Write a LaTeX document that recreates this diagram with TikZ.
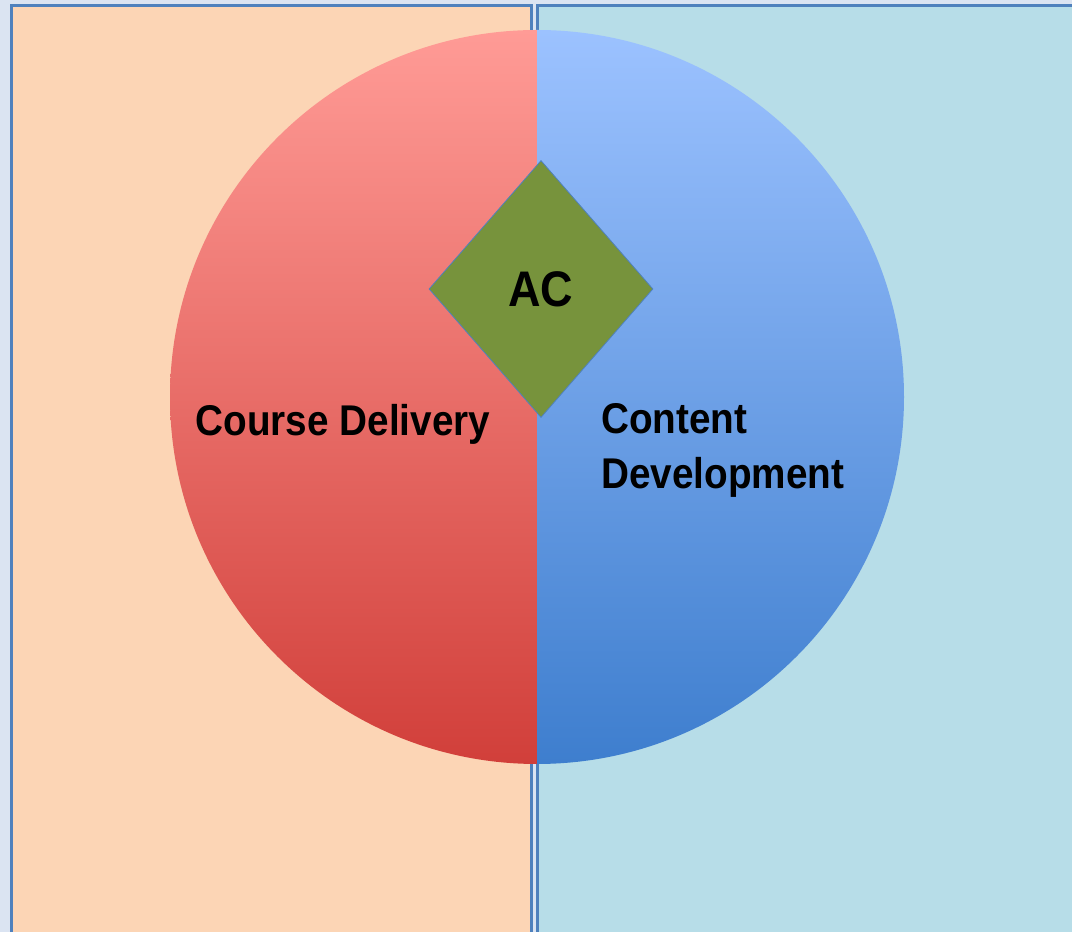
\documentclass[tikz,border=0pt]{standalone}
\usepackage{fontspec}
\setmainfont{Liberation Sans}[FakeStretch=0.9]
\usetikzlibrary{shapes.geometric}
\definecolor{pagebg}{HTML}{DBE4F2}
\definecolor{frameblue}{HTML}{4F81BD}
\definecolor{peach}{HTML}{FCD5B5}
\definecolor{aqua}{HTML}{B7DDE8}
\definecolor{redtop}{HTML}{FF9B96}
\definecolor{redbot}{HTML}{D13F3A}
\definecolor{bluetop}{HTML}{9CC2FF}
\definecolor{bluebot}{HTML}{3E7ECE}
\definecolor{olive}{HTML}{77933C}
\tikzset{
    panel/.style={draw=frameblue, line width=3pt},
    leftdisc/.style={top color=redtop, bottom color=redbot},
    rightdisc/.style={top color=bluetop, bottom color=bluebot},
    acbox/.style={diamond, draw=frameblue, line width=0.8pt, fill=olive,
        minimum width=224pt, minimum height=257pt, inner sep=0pt,
        font=\bfseries\fontsize{50}{60}\selectfont},
    bigtext/.style={inner sep=0pt, font=\bfseries\fontsize{43}{55}\selectfont}
}

\begin{document}
\begin{tikzpicture}[x=1pt,y=1pt]
	\useasboundingbox (0,0) rectangle (1072,932);
	\fill[pagebg] (0,0) rectangle (1072,932);
	% two panels
	\draw[panel, fill=peach] (11,-5) rectangle (531,926);
	\draw[panel, fill=aqua] (537,-5) rectangle (1080,926);
	% the disc, in two halves
	\coordinate (top) at (537,902);
	\shade[leftdisc] (top) arc[start angle=90, end angle=270, radius=367] -- cycle;
	\shade[rightdisc] (top) arc[start angle=90, end angle=-90, radius=367] -- cycle;
	\node[acbox] (ac) at (541,643) {AC};
	\node[bigtext, anchor=base] (delivery) at (343,496) {Course Delivery};
	\node[bigtext, anchor=north west, align=left] (content) at (601,529) {Content\\Development};
\end{tikzpicture}
\end{document}
